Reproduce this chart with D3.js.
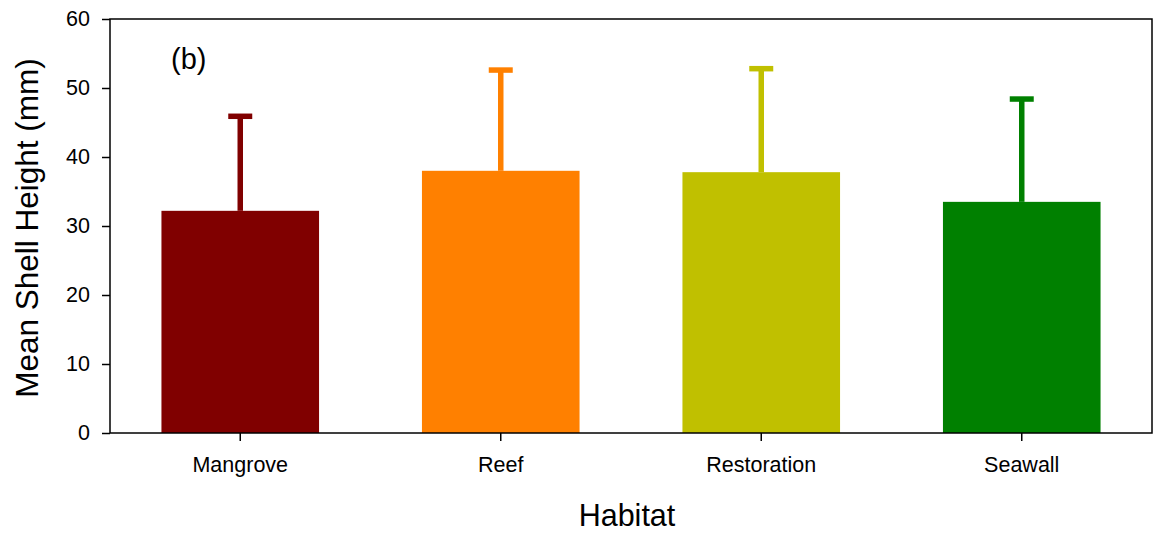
<!DOCTYPE html>
<html>
<head>
<meta charset="utf-8">
<script src="https://cdn.jsdelivr.net/npm/d3@7"></script>
<style>
  html, body { margin: 0; padding: 0; background: #fff; }
  svg { display: block; font-family: "Liberation Sans", Arial, sans-serif; }
</style>
</head>
<body>
<svg id="chart" width="1155" height="536"></svg>
<script>
// Mean shell height by habitat, with upper error bars (mean + SD)
const habitats = ["Mangrove", "Reef", "Restoration", "Seawall"];
const means = [32.2, 38.0, 37.8, 33.5];
const upperErr = [45.9, 52.6, 52.8, 48.4];
const barColors = ["#800000", "#FF8000", "#C0C000", "#008000"];
const yTicks = [0, 10, 20, 30, 40, 50, 60];

const svg = d3.select("#chart");
const plotLeft = 110, plotRight = 1152, plotTop = 19, plotBottom = 433;

const x = d3.scaleBand().domain(habitats).range([plotLeft, plotRight]).padding(0);
const y = d3.scaleLinear().domain([0, 60]).range([plotBottom, plotTop]);
const barW = x.bandwidth() * 0.605;
const capW = 24;

// Bars
svg.append("g").selectAll("rect")
  .data(habitats)
  .join("rect")
  .attr("x", (d) => x(d) + x.bandwidth() / 2 - barW / 2)
  .attr("y", (d, i) => y(means[i]))
  .attr("width", barW)
  .attr("height", (d, i) => y(0) - y(means[i]))
  .attr("fill", (d, i) => barColors[i]);

// Error bars (upper only)
const eb = svg.append("g");
habitats.forEach((h, i) => {
  const cx = x(h) + x.bandwidth() / 2;
  eb.append("line")
    .attr("x1", cx).attr("x2", cx)
    .attr("y1", y(means[i])).attr("y2", y(upperErr[i]))
    .attr("stroke", barColors[i]).attr("stroke-width", 5.5);
  eb.append("line")
    .attr("x1", cx - capW / 2).attr("x2", cx + capW / 2)
    .attr("y1", y(upperErr[i])).attr("y2", y(upperErr[i]))
    .attr("stroke", barColors[i]).attr("stroke-width", 5.5);
});

// Frame
svg.append("rect")
  .attr("x", plotLeft).attr("y", plotTop)
  .attr("width", plotRight - plotLeft).attr("height", plotBottom - plotTop)
  .attr("fill", "none").attr("stroke", "#000").attr("stroke-width", 1.5);

// Y axis
const yAxis = svg.append("g")
  .attr("transform", `translate(${plotLeft},0)`)
  .call(d3.axisLeft(y).tickValues(yTicks).tickSize(8).tickPadding(12));
yAxis.select(".domain").remove();
yAxis.selectAll(".tick line").attr("stroke", "#000").attr("stroke-width", 1.5);
yAxis.selectAll(".tick text")
  .attr("font-size", "21.5px").attr("fill", "#000")
  .attr("font-family", "'Liberation Sans', Arial, sans-serif");

// X axis
const xAxis = svg.append("g")
  .attr("transform", `translate(0,${plotBottom})`)
  .call(d3.axisBottom(x).tickSize(8).tickPadding(16));
xAxis.select(".domain").remove();
xAxis.selectAll(".tick line").attr("stroke", "#000").attr("stroke-width", 1.5);
xAxis.selectAll(".tick text")
  .attr("font-size", "21.5px").attr("fill", "#000")
  .attr("font-family", "'Liberation Sans', Arial, sans-serif");

// Axis titles
svg.append("text")
  .attr("transform", `translate(38,${(plotTop + plotBottom) / 2 + 2}) rotate(-90)`)
  .attr("text-anchor", "middle")
  .attr("font-size", "31.5px")
  .text("Mean Shell Height (mm)");

svg.append("text")
  .attr("x", 627)
  .attr("y", 526)
  .attr("text-anchor", "middle")
  .attr("font-size", "30.5px")
  .text("Habitat");

// Panel label
svg.append("text")
  .attr("x", 171)
  .attr("y", 68.5)
  .attr("font-size", "29px")
  .text("(b)");
</script>
</body>
</html>
